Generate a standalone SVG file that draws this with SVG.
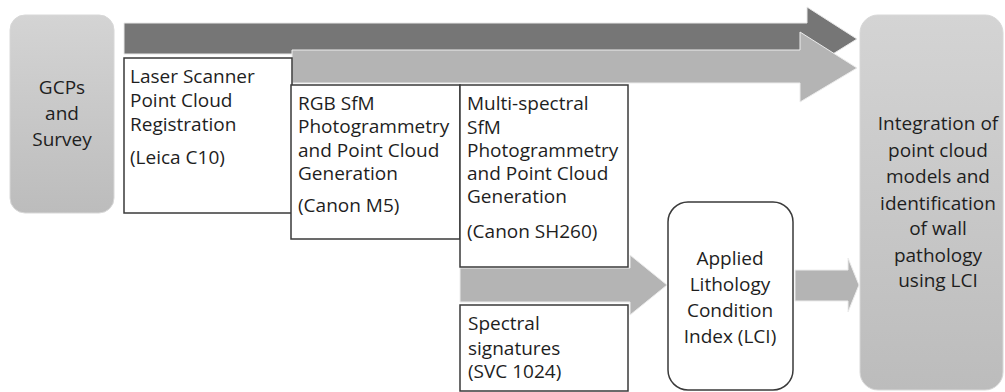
<svg xmlns="http://www.w3.org/2000/svg" width="1005" height="392" viewBox="0 0 1005 392">
<style>
text{font-family:"Open Sans","Liberation Sans",sans-serif;font-size:19px;fill:#1e1e1e}
.c{text-anchor:middle}
.box{fill:#fff;stroke:#3a3a3a;stroke-width:1.5}
.dark{fill:#767676;stroke:#e8e8e8;stroke-width:1}
.light{fill:#b4b4b4;stroke:#ececec;stroke-width:1}
</style>
<defs>
<linearGradient id="g1" x1="0" y1="0" x2="0" y2="1">
<stop offset="0" stop-color="#d4d4d4"/>
<stop offset="1" stop-color="#bcbcbc"/>
</linearGradient>
</defs>
<g id="connectors">
<polygon class="dark" points="124,23 807,23 807,7 857,39 807,70 807,54 124,54"/>
<polygon class="light" points="292,50 800,50 800,32 857,68 800,102 800,83 292,83"/>
<polygon class="light" points="460,268 630,268 630,255 667,285 630,315 630,302 460,302"/>
<polygon class="light" points="795,270 848,270 848,258 859,285 848,312 848,301 795,301"/>
</g>
<g id="gcps">
<rect x="10" y="15" width="104" height="198" rx="15" fill="url(#g1)" stroke="#d8d8d8"/>
<text class="c" x="62" y="94">GCPs</text>
<text class="c" x="62" y="120">and</text>
<text class="c" x="62" y="146">Survey</text>
</g>
<g id="laser">
<rect class="box" x="124" y="58" width="168" height="155"/>
<text x="130" y="83">Laser Scanner</text>
<text x="130" y="107">Point Cloud</text>
<text x="130" y="131">Registration</text>
<text x="130" y="164">(Leica C10)</text>
</g>
<g id="rgb">
<rect class="box" x="291" y="85" width="169" height="154"/>
<text x="298" y="110">RGB SfM</text>
<text x="298" y="133">Photogrammetry</text>
<text x="298" y="157">and Point Cloud</text>
<text x="298" y="180">Generation</text>
<text x="298" y="212">(Canon M5)</text>
</g>
<g id="multi">
<rect class="box" x="460" y="85" width="168" height="182"/>
<text x="467" y="110">Multi-spectral</text>
<text x="467" y="134">SfM</text>
<text x="467" y="157">Photogrammetry</text>
<text x="467" y="180">and Point Cloud</text>
<text x="467" y="203">Generation</text>
<text x="467" y="238">(Canon SH260)</text>
</g>
<g id="spectral">
<rect class="box" x="460" y="305" width="168" height="86"/>
<text x="468" y="330">Spectral</text>
<text x="468" y="355">signatures</text>
<text x="468" y="378">(SVC 1024)</text>
</g>
<g id="lci">
<rect class="box" x="668" y="202" width="125" height="188" rx="20"/>
<text class="c" x="730" y="265">Applied</text>
<text class="c" x="730" y="291">Lithology</text>
<text class="c" x="730" y="317">Condition</text>
<text class="c" x="730" y="343">Index (LCI)</text>
</g>
<g id="integration">
<rect x="860" y="15" width="143" height="375" rx="18" fill="url(#g1)" stroke="#d8d8d8"/>
<text class="c" x="938" y="130">Integration of</text>
<text class="c" x="938" y="157">point cloud</text>
<text class="c" x="938" y="183">models and</text>
<text class="c" x="938" y="210">identification</text>
<text class="c" x="938" y="235">of wall</text>
<text class="c" x="938" y="262">pathology</text>
<text class="c" x="938" y="287">using LCI</text>
</g>
</svg>
